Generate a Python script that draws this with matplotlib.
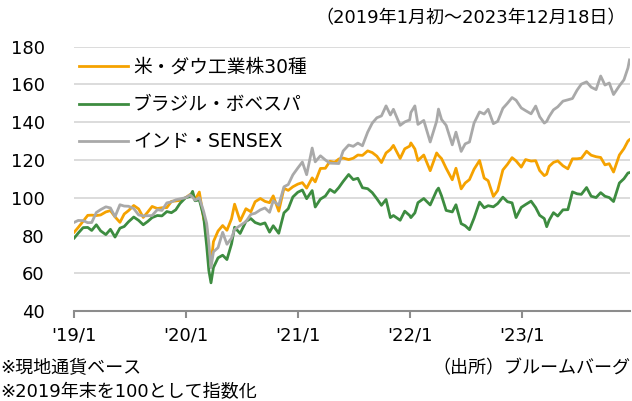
import matplotlib
matplotlib.use('Agg')

import pandas as pd
import matplotlib.pyplot as plt

plt.rcParams['font.family'] = ['DejaVu Sans', 'Noto Sans CJK JP']

dates = [
    '2019-01-02', '2019-01-15', '2019-01-31', '2019-02-15', '2019-02-28', '2019-03-15', '2019-03-29',
    '2019-04-15', '2019-04-30', '2019-05-15', '2019-05-31', '2019-06-14', '2019-06-28', '2019-07-15',
    '2019-07-31', '2019-08-15', '2019-08-30', '2019-09-13', '2019-09-30', '2019-10-15', '2019-10-31',
    '2019-11-15', '2019-11-29', '2019-12-13', '2019-12-31',
    '2020-01-15', '2020-01-23', '2020-01-31', '2020-02-14', '2020-02-28', '2020-03-09', '2020-03-16',
    '2020-03-23', '2020-03-31', '2020-04-15', '2020-04-30', '2020-05-14', '2020-05-29', '2020-06-08',
    '2020-06-26', '2020-07-15', '2020-07-31', '2020-08-14', '2020-08-31', '2020-09-15', '2020-09-30',
    '2020-10-12', '2020-10-30', '2020-11-16', '2020-11-30', '2020-12-15', '2020-12-31',
    '2021-01-15', '2021-01-29', '2021-02-16', '2021-02-26', '2021-03-15', '2021-03-31', '2021-04-15',
    '2021-04-30', '2021-05-14', '2021-05-28', '2021-06-15', '2021-06-30', '2021-07-15', '2021-07-30',
    '2021-08-16', '2021-08-31', '2021-09-15', '2021-09-30', '2021-10-15', '2021-10-29', '2021-11-08',
    '2021-11-30', '2021-12-15', '2021-12-31',
    '2022-01-04', '2022-01-17', '2022-01-27', '2022-02-15', '2022-03-08', '2022-03-29', '2022-04-04',
    '2022-04-14', '2022-04-29', '2022-05-19', '2022-05-31', '2022-06-17', '2022-06-30', '2022-07-14',
    '2022-07-29', '2022-08-16', '2022-08-31', '2022-09-13', '2022-09-30', '2022-10-14', '2022-10-31',
    '2022-11-15', '2022-11-30', '2022-12-13', '2022-12-30',
    '2023-01-13', '2023-01-31', '2023-02-15', '2023-02-28', '2023-03-15', '2023-03-23', '2023-03-31',
    '2023-04-14', '2023-04-28', '2023-05-15', '2023-05-31', '2023-06-15', '2023-06-30', '2023-07-14',
    '2023-07-31', '2023-08-15', '2023-08-31', '2023-09-15', '2023-09-29', '2023-10-13', '2023-10-27',
    '2023-11-15', '2023-11-30', '2023-12-13', '2023-12-18',
]

dow = [
    81.8, 84.3, 87.6, 90.7, 90.8, 90.6, 90.9, 92.5, 93.2, 89.9, 87.0, 91.4, 93.2, 95.9, 94.1, 89.6,
    92.5, 95.4, 94.3, 94.7, 94.8, 98.1, 98.3, 98.6, 100.0,
    101.7, 102.2, 99.0, 103.0, 89.0, 83.6, 70.7, 65.1, 76.8, 82.4, 85.3, 82.8, 88.9, 96.6, 87.7,
    94.2, 92.6, 97.9, 99.6, 98.1, 97.4, 101.0, 92.9, 105.0, 103.9, 105.8, 107.2,
    108.0, 105.1, 110.5, 108.4, 115.5, 115.6, 119.3, 118.7, 120.5, 121.0, 120.2, 120.9, 122.6,
    122.4, 124.8, 123.9, 122.0, 118.6, 123.7, 125.5, 127.7, 120.8, 125.9, 127.3,
    129.0, 125.8, 119.7, 122.6, 114.3, 123.7, 122.4, 120.7, 115.6, 109.5, 115.6, 104.7, 107.8,
    109.6, 115.1, 119.7, 110.4, 109.0, 100.7, 103.8, 114.7, 117.7, 121.2, 119.5, 116.2,
    120.2, 119.4, 119.6, 114.4, 111.7, 112.5, 116.6, 118.7, 119.5, 116.9, 115.3, 120.6, 120.6,
    120.9, 124.6, 122.5, 121.7, 121.3, 117.4, 118.0, 113.6, 122.6, 126.0, 130.0, 130.7,
]

bovespa = [
    78.7, 81.3, 84.2, 84.3, 82.7, 85.7, 82.5, 80.5, 83.3, 79.2, 83.9, 84.8, 87.3, 89.8, 88.0, 85.7,
    87.5, 89.5, 90.6, 90.4, 92.7, 92.1, 93.6, 97.0, 100.0,
    100.7, 103.4, 98.4, 98.9, 90.1, 74.4, 61.5, 55.0, 63.1, 68.2, 69.6, 67.3, 75.6, 84.4, 81.1,
    87.5, 89.0, 86.9, 85.9, 86.7, 81.8, 85.2, 81.2, 92.0, 94.2, 100.4, 102.9,
    104.1, 99.5, 103.8, 95.1, 99.3, 100.9, 104.4, 102.8, 105.4, 108.6, 112.3, 109.6, 110.3,
    105.3, 104.8, 102.7, 99.5, 96.0, 99.1, 89.5, 90.6, 88.1, 92.9, 90.6,
    89.5, 92.0, 97.4, 99.6, 96.2, 103.8, 105.1, 101.0, 93.3, 92.5, 96.3, 86.3, 85.2, 83.1, 89.2,
    97.7, 94.7, 95.8, 95.2, 96.9, 100.3, 97.9, 97.3, 89.5, 94.9,
    96.4, 98.2, 94.8, 90.7, 89.0, 84.7, 88.1, 92.1, 90.3, 93.6, 93.7, 103.1, 102.1, 101.8,
    105.4, 100.8, 100.1, 102.7, 100.8, 100.1, 98.0, 107.8, 110.1, 113.1, 113.3,
]

sensex = [
    87.0, 88.0, 87.9, 86.8, 86.9, 92.2, 93.7, 95.2, 94.6, 90.0, 96.3, 95.6, 95.5, 94.3, 90.9, 90.4,
    90.5, 90.6, 93.7, 93.3, 97.3, 97.8, 98.9, 99.4, 100.0,
    101.5, 100.3, 98.7, 100.0, 92.8, 86.4, 76.1, 63.0, 71.4, 73.6, 81.7, 75.4, 78.6, 83.3, 85.3,
    87.4, 91.2, 91.8, 93.6, 94.6, 92.3, 98.4, 96.0, 105.8, 107.0, 112.1, 115.7,
    118.9, 112.2, 126.3, 119.0, 122.2, 120.0, 118.3, 118.2, 118.1, 124.7, 127.9, 127.2, 128.9,
    127.5, 134.7, 139.5, 142.3, 143.3, 148.6, 143.8, 146.8, 138.3, 140.1, 141.2,
    145.1, 148.6, 138.8, 140.9, 129.5, 140.5, 146.9, 141.4, 138.3, 128.0, 134.7, 124.5, 128.5,
    129.5, 139.5, 145.4, 144.3, 146.8, 139.2, 140.4, 147.3, 150.0, 153.0, 151.6, 147.5,
    146.1, 144.4, 148.5, 142.9, 139.5, 140.4, 143.0, 146.5, 148.1, 151.1, 151.8, 152.5, 156.9,
    160.1, 161.3, 158.5, 157.2, 164.4, 159.6, 160.7, 154.6, 159.2, 162.4, 168.7, 172.9,
]

tick_dates = ['2019-01-01', '2020-01-01', '2021-01-01', '2022-01-01', '2023-01-01']
tick_labels = ["'19/1", "'20/1", "'21/1", "'22/1", "'23/1"]
y_ticks = [40, 60, 80, 100, 120, 140, 160, 180]

x = pd.to_datetime(dates)

fig = plt.figure(figsize=(6.32, 4.01), dpi=100)
ax = fig.add_axes([0.117, 0.224, 0.880, 0.660])

ax.plot(x, dow, color='#F5A200', linewidth=2.0, label='米・ダウ工業株30種')
ax.plot(x, bovespa, color='#3D8C40', linewidth=2.0, label='ブラジル・ボベスパ')
ax.plot(x, sensex, color='#A9A9A9', linewidth=2.0, label='インド・SENSEX')

ax.set_ylim(40, 180)
ax.set_yticks(y_ticks)
ax.set_xlim(pd.to_datetime('2019-01-01'), pd.to_datetime('2023-12-20'))
ax.set_xticks(pd.to_datetime(tick_dates))
ax.set_xticklabels(tick_labels)

ax.grid(axis='y', color='#D9D9D9', linewidth=1.3)
ax.set_axisbelow(True)
for side in ['top', 'right', 'left']:
    ax.spines[side].set_visible(False)
ax.spines['bottom'].set_color('#8C8C8C')
ax.spines['bottom'].set_linewidth(1.5)
ax.tick_params(axis='y', length=0, pad=21, labelsize=13)
ax.tick_params(axis='x', length=5, width=1.5, color='#8C8C8C', pad=6, labelsize=13)

ax.legend(loc='upper left', bbox_to_anchor=(-0.004, 0.985), frameon=False, fontsize=13.5,
          handlelength=2.6, handletextpad=0.27, labelspacing=0.97, borderaxespad=0)

fig.text(0.99, 0.955, '（2019年1月初～2023年12月18日）', ha='right', va='center', fontsize=13)
fig.text(0.0, 0.082, '※現地通貨ベース', ha='left', va='center', fontsize=13)
fig.text(0.0, 0.022, '※2019年末を100として指数化', ha='left', va='center', fontsize=13)
fig.text(0.997, 0.082, '（出所）ブルームバーグ', ha='right', va='center', fontsize=13)

fig.savefig('out.png', dpi=100)
